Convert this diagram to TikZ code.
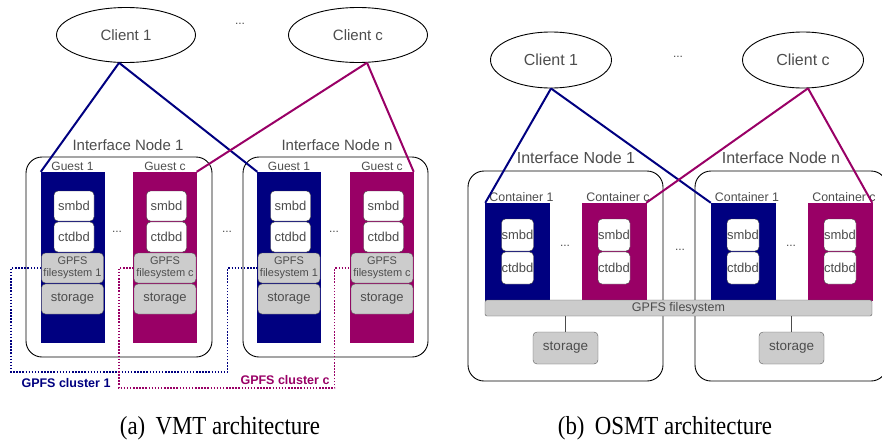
\documentclass[tikz,border=0pt]{standalone}
\usepackage{fontspec}
\setmainfont{Liberation Sans}
\newfontfamily\capfont{Liberation Serif}
\usetikzlibrary{shapes.geometric}

\definecolor{guestblue}{RGB}{0,0,128}
\definecolor{guestpurple}{RGB}{153,0,102}
\definecolor{boxgray}{RGB}{204,204,204}
\definecolor{txtgray}{RGB}{77,77,77}

\tikzset{
  client/.style={draw,ellipse,line width=0.9pt,text=txtgray,inner sep=0pt},
  ifbox/.style={draw,rounded corners=16pt,line width=0.9pt},
  iflabel/.style={text=txtgray,inner sep=0pt},
  column/.style={draw=#1,fill=#1,inner sep=0pt},
  collabel/.style={text=txtgray,inner sep=1pt,anchor=south,font=\fontsize{12}{14}\selectfont},
  daemon/.style={draw=black!75,fill=white,rounded corners=4pt,text=txtgray,inner sep=0pt,font=\fontsize{13}{15}\selectfont},
  fsbox/.style={draw=black!65,fill=boxgray,rounded corners=4pt,text=txtgray,inner sep=0pt,align=center},
  dots/.style={text=txtgray,inner sep=0pt,font=\fontsize{12}{14}\selectfont},
  link/.style={line width=2pt},
  cluster/.style={line width=1.1pt,dash pattern=on 1.5pt off 1.6pt},
  clusterlabel/.style={inner sep=0pt,font=\fontsize{12.5}{15}\bfseries\selectfont},
  caption/.style={inner sep=0pt,anchor=base,font=\capfont\fontsize{26}{30}\selectfont}
}

\begin{document}
\begin{tikzpicture}[x=1pt,y=-1pt]
	\useasboundingbox (0,0) rectangle (882,442);

%%%%%%%%%%%%%%%%%%%%%%%%
% (a) VMT architecture
%%%%%%%%%%%%%%%%%%%%%%%%

	% clients
	\node[client,minimum width=139pt,minimum height=55pt,font=\fontsize{15}{18}\selectfont] (ca1) at (126,35) {Client 1};
	\node[client,minimum width=139pt,minimum height=55pt,font=\fontsize{15}{18}\selectfont] (cac) at (358,35) {Client c};
	\node[dots] (da0) at (240,24) {...};

	% interface nodes
	\node[ifbox,minimum width=186pt,minimum height=200pt] (ia1) at (119,257) {};
	\node[ifbox,minimum width=185pt,minimum height=200pt] (ian) at (335.5,257) {};
	\node[iflabel,font=\fontsize{15}{18}\selectfont] (la1) at (128,145) {Interface Node 1};
	\node[iflabel,font=\fontsize{15}{18}\selectfont] (lan) at (337,145) {Interface Node n};

	% guests
	\foreach \name/\x/\col/\lab in {a11/72.5/guestblue/1, a1c/165/guestpurple/c, an1/289/guestblue/1, anc/382/guestpurple/c} {
		\node[column=\col,minimum width=63pt,minimum height=170pt] (g\name) at (\x,257) {};
		\node[collabel] (l\name) at (g\name.north) {Guest \lab};
		\node[daemon,minimum width=40pt,minimum height=30pt] (s\name) at (\x+1.5,206) {smbd};
		\node[daemon,minimum width=40pt,minimum height=30pt] (t\name) at (\x+1.5,237) {ctdbd};
		\node[fsbox,minimum width=62pt,minimum height=30pt,font=\fontsize{11}{12}\selectfont] (f\name) at (\x,268) {GPFS\\filesystem \lab};
		\node[fsbox,minimum width=62pt,minimum height=30pt,font=\fontsize{13}{15}\selectfont] (st\name) at (\x,299) {storage};
	}
	\node[dots] (da1) at (117,232) {...};
	\node[dots] (da2) at (227,232) {...};
	\node[dots] (da3) at (334,232) {...};

	% client links
	\draw[link,guestblue] (ca1.256) -- (ga11.north west);
	\draw[link,guestblue] (ca1.256) -- (gan1.north west);
	\draw[link,guestpurple] (cac.288) -- (ga1c.north east);
	\draw[link,guestpurple] (cac.288) -- (ganc.north east);

	% gpfs clusters
	\draw[cluster,guestblue] (fa11.west) -| (11,372) -| ([xshift=-30pt]fan1.west) -- (fan1.west);
	\draw[cluster,guestpurple] (fa1c.west) -| (119,388) -| ([xshift=-16pt]fanc.west) -- (fanc.west);
	\node[clusterlabel,text=guestblue] (cl1) at (66,383) {GPFS cluster 1};
	\node[clusterlabel,text=guestpurple] (clc) at (285,380) {GPFS cluster c};

	\node[caption] (capa) at (220,434) {\scalebox{0.88}[1]{(a)\hspace{0.45em}VMT architecture}};

%%%%%%%%%%%%%%%%%%%%%%%%
% (b) OSMT architecture
%%%%%%%%%%%%%%%%%%%%%%%%

	% clients
	\node[client,minimum width=121pt,minimum height=56pt,font=\fontsize{16}{19}\selectfont] (cb1) at (551,60) {Client 1};
	\node[client,minimum width=121pt,minimum height=56pt,font=\fontsize{16}{19}\selectfont] (cbc) at (803,60) {Client c};
	\node[dots] (db0) at (678,57) {...};

	% interface nodes
	\node[ifbox,minimum width=195pt,minimum height=210pt] (ib1) at (565.5,276) {};
	\node[ifbox,minimum width=192pt,minimum height=210pt] (ibn) at (791,276) {};
	\node[iflabel,font=\fontsize{16}{19}\selectfont] (lb1) at (576,158) {Interface Node 1};
	\node[iflabel,font=\fontsize{16}{19}\selectfont] (lbn) at (781,158) {Interface Node n};

	% containers
	\foreach \name/\x/\col/\lab in {b11/517.5/guestblue/1, b1c/614/guestpurple/c, bn1/743/guestblue/1, bnc/840/guestpurple/c} {
		\node[column=\col,minimum width=64pt,minimum height=97pt] (g\name) at (\x,251.5) {};
		\node[collabel,font=\fontsize{12.4}{14}\selectfont] (l\name) at ([xshift=4pt]g\name.north) {Container \lab};
		\node[daemon,minimum width=32pt,minimum height=32pt] (s\name) at (\x,235) {smbd};
		\node[daemon,minimum width=32pt,minimum height=32pt] (t\name) at (\x,268) {ctdbd};
	}
	\node[dots] (db1) at (565,246) {...};
	\node[dots] (db2) at (680,250) {...};
	\node[dots] (db3) at (791,246) {...};

	% shared filesystem and storage
	\node[fsbox,minimum width=387pt,minimum height=16pt,rounded corners=2pt,font=\fontsize{12.5}{15}\selectfont] (bar) at (678.5,308) {GPFS filesystem};
	\node[fsbox,minimum width=65pt,minimum height=32pt,font=\fontsize{13.5}{16}\selectfont] (sb1) at (565.5,348) {storage};
	\node[fsbox,minimum width=65pt,minimum height=32pt,font=\fontsize{13.5}{16}\selectfont] (sbn) at (791.5,348) {storage};
	\draw[line width=0.7pt,black!70] (sb1.north) -- (sb1.north |- bar.south);
	\draw[line width=0.7pt,black!70] (sbn.north) -- (sbn.north |- bar.south);

	% client links
	\draw[link,guestblue] (cb1.south) -- (gb11.north west);
	\draw[link,guestblue] (cb1.south) -- (gbn1.north west);
	\draw[link,guestpurple] (cbc.280) -- (gb1c.north east);
	\draw[link,guestpurple] (cbc.280) -- (gbnc.north east);

	\node[caption] (capb) at (665,434) {\scalebox{0.88}[1]{(b)\hspace{0.45em}OSMT architecture}};

\end{tikzpicture}
\end{document}
